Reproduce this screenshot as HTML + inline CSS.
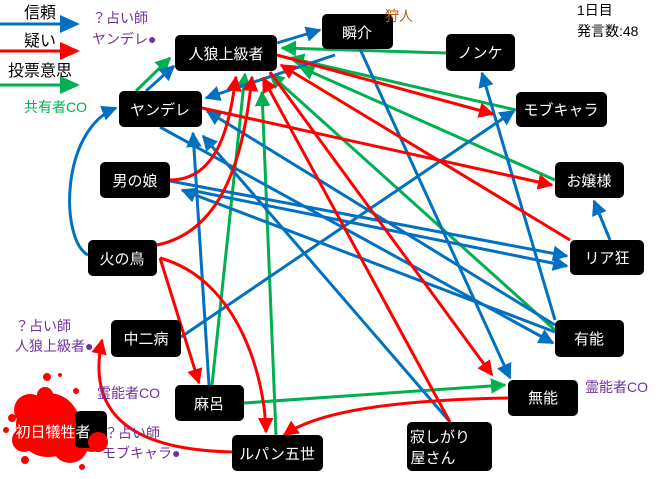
<!DOCTYPE html>
<html><head><meta charset="utf-8"><style>
html,body{margin:0;padding:0;background:#fff;}
svg text{font-family:"Liberation Sans","Noto Sans CJK JP",sans-serif;}
</style></head><body>
<svg width="660" height="474" viewBox="0 0 660 474" xmlns="http://www.w3.org/2000/svg">
<defs>
<marker id="b" viewBox="0 0 10 10" refX="9" refY="5" markerWidth="5.2" markerHeight="5.2" orient="auto" markerUnits="strokeWidth"><path d="M0,0L10,5L0,10z" fill="#0070c0"/></marker>
<marker id="r" viewBox="0 0 10 10" refX="9" refY="5" markerWidth="5.2" markerHeight="5.2" orient="auto" markerUnits="strokeWidth"><path d="M0,0L10,5L0,10z" fill="#ff0000"/></marker>
<marker id="g" viewBox="0 0 10 10" refX="9" refY="5" markerWidth="5.2" markerHeight="5.2" orient="auto" markerUnits="strokeWidth"><path d="M0,0L10,5L0,10z" fill="#00b050"/></marker>
</defs>
<g fill="none" stroke-width="3">
<!-- legend -->
<line x1="0" y1="24" x2="62" y2="24" stroke="#0070c0"/><path d="M60,15L80,24L60,33z" fill="#0070c0"/>
<line x1="0" y1="51" x2="62" y2="51" stroke="#ff0000"/><path d="M60,42L80,51L60,60z" fill="#ff0000"/>
<line x1="0" y1="85" x2="62" y2="85" stroke="#00b050"/><path d="M60,76L80,85L60,94z" fill="#00b050"/>
<!-- green -->
<g stroke="#00b050" marker-end="url(#g)">
<line x1="446" y1="53" x2="282" y2="48"/>
<line x1="516" y1="110" x2="290" y2="58"/>
<line x1="555" y1="180" x2="300" y2="67"/>
<line x1="555" y1="330" x2="270" y2="74"/>
<line x1="136" y1="91" x2="170" y2="58"/>
<line x1="212" y1="385" x2="245" y2="74"/>
<line x1="276" y1="435" x2="262" y2="92"/>
<line x1="244" y1="403" x2="505" y2="385"/>
</g>
<!-- blue -->
<g stroke="#0070c0" marker-end="url(#b)">
<line x1="277" y1="43" x2="320" y2="30"/>
<line x1="146" y1="91" x2="174" y2="66"/>
<path d="M88,255 C60,240 60,130 116,108"/>
<line x1="335" y1="55" x2="206" y2="98"/>
<line x1="360" y1="49" x2="510" y2="378"/>
<line x1="555" y1="320" x2="482" y2="73"/>
<line x1="181" y1="337" x2="514" y2="111"/>
<line x1="610" y1="240" x2="594" y2="201"/>
<line x1="170" y1="181" x2="567" y2="256"/>
<line x1="190" y1="190" x2="567" y2="266"/>
<line x1="160" y1="127" x2="553" y2="343"/>
<line x1="555" y1="332" x2="182" y2="190"/>
<line x1="555" y1="325" x2="207" y2="111"/>
<line x1="209" y1="385" x2="193" y2="133"/>
<line x1="450" y1="422" x2="203" y2="136"/>
</g>
<!-- red -->
<g stroke="#ff0000" marker-end="url(#r)">
<line x1="277" y1="55" x2="493" y2="114"/>
<line x1="202" y1="108" x2="552" y2="185"/>
<path d="M170,180 C220,180 230,120 236,77"/>
<path d="M157,245 C230,230 245,140 252,77"/>
<line x1="160" y1="258" x2="199" y2="383"/>
<path d="M160,258 C240,280 265,380 266,432"/>
<path d="M508,398 C400,400 320,410 284,435"/>
<path d="M232,452 C140,450 85,420 102,340"/>
<line x1="450" y1="422" x2="263" y2="78"/>
<line x1="570" y1="240" x2="281" y2="65"/>
<line x1="270" y1="72" x2="492" y2="375"/>
</g>
</g>
<!-- blood -->
<g fill="#ff0000">
<circle cx="48" cy="425" r="32"/><circle cx="30" cy="410" r="16"/><circle cx="70" cy="445" r="18"/>
<circle cx="24" cy="440" r="12"/><circle cx="92" cy="440" r="12"/><circle cx="45" cy="395" r="8"/>
<circle cx="47" cy="377" r="4"/><circle cx="60" cy="375" r="2"/><circle cx="76" cy="391" r="3"/>
<circle cx="82" cy="467" r="3"/><circle cx="25" cy="460" r="4"/><circle cx="6" cy="430" r="3"/>
<circle cx="12" cy="418" r="4"/>
</g>
<!-- nodes -->
<g fill="#000">
<rect x="175" y="35" width="102" height="36" rx="5"/>
<rect x="322" y="14" width="71" height="35" rx="5"/>
<rect x="446" y="34" width="69" height="37" rx="5"/>
<rect x="516" y="92" width="91" height="35" rx="5"/>
<rect x="119" y="91" width="83" height="36" rx="5"/>
<rect x="555" y="162" width="69" height="36" rx="5"/>
<rect x="100" y="162" width="70" height="36" rx="5"/>
<rect x="88" y="240" width="69" height="36" rx="5"/>
<rect x="570" y="240" width="74" height="35" rx="5"/>
<rect x="111" y="320" width="70" height="37" rx="5"/>
<rect x="555" y="320" width="69" height="37" rx="5"/>
<rect x="175" y="385" width="69" height="36" rx="5"/>
<rect x="508" y="380" width="70" height="36" rx="5"/>
<rect x="232" y="435" width="91" height="36" rx="5"/>
<rect x="407" y="422" width="85" height="49" rx="5"/>
</g>
<rect x="75" y="411" width="32" height="37" rx="5" fill="#000"/>
<g fill="#ff0000"><circle cx="98" cy="442" r="10"/><circle cx="48" cy="425" r="28"/></g>
<g fill="#fff" font-size="15" text-anchor="middle">
<text x="226" y="59">人狼上級者</text>
<text x="357" y="38">瞬介</text>
<text x="480" y="58">ノンケ</text>
<text x="561" y="115">モブキャラ</text>
<text x="160" y="115">ヤンデレ</text>
<text x="589" y="186">お嬢様</text>
<text x="135" y="186">男の娘</text>
<text x="122" y="264">火の鳥</text>
<text x="607" y="263">リア狂</text>
<text x="146" y="344">中二病</text>
<text x="589" y="344">有能</text>
<text x="209" y="409">麻呂</text>
<text x="543" y="403">無能</text>
<text x="277" y="459">ルパン五世</text>
<text x="53" y="437">初日犠牲者</text>
<text x="440" y="442">寂しがり</text>
<text x="433" y="463">屋さん</text>
</g>
<g font-size="14">
<text x="24" y="18" fill="#000" font-size="16">信頼</text>
<text x="24" y="46" fill="#000" font-size="16">疑い</text>
<text x="8" y="76" fill="#000" font-size="16">投票意思</text>
<text x="24" y="112" fill="#00b050">共有者CO</text>
<text x="92" y="23" fill="#7030a0">？占い師</text>
<text x="92" y="44" fill="#7030a0">ヤンデレ●</text>
<text x="385" y="21" fill="#c55a11">狩人</text>
<text x="577" y="15" fill="#000">1日目</text>
<text x="577" y="36" fill="#000">発言数:48</text>
<text x="15" y="331" fill="#7030a0">？占い師</text>
<text x="15" y="351" fill="#7030a0">人狼上級者●</text>
<text x="97" y="398" fill="#7030a0">霊能者CO</text>
<text x="104" y="438" fill="#7030a0">？占い師</text>
<text x="102" y="458" fill="#7030a0">モブキャラ●</text>
<text x="585" y="392" fill="#7030a0">霊能者CO</text>
</g>
</svg>
</body></html>
